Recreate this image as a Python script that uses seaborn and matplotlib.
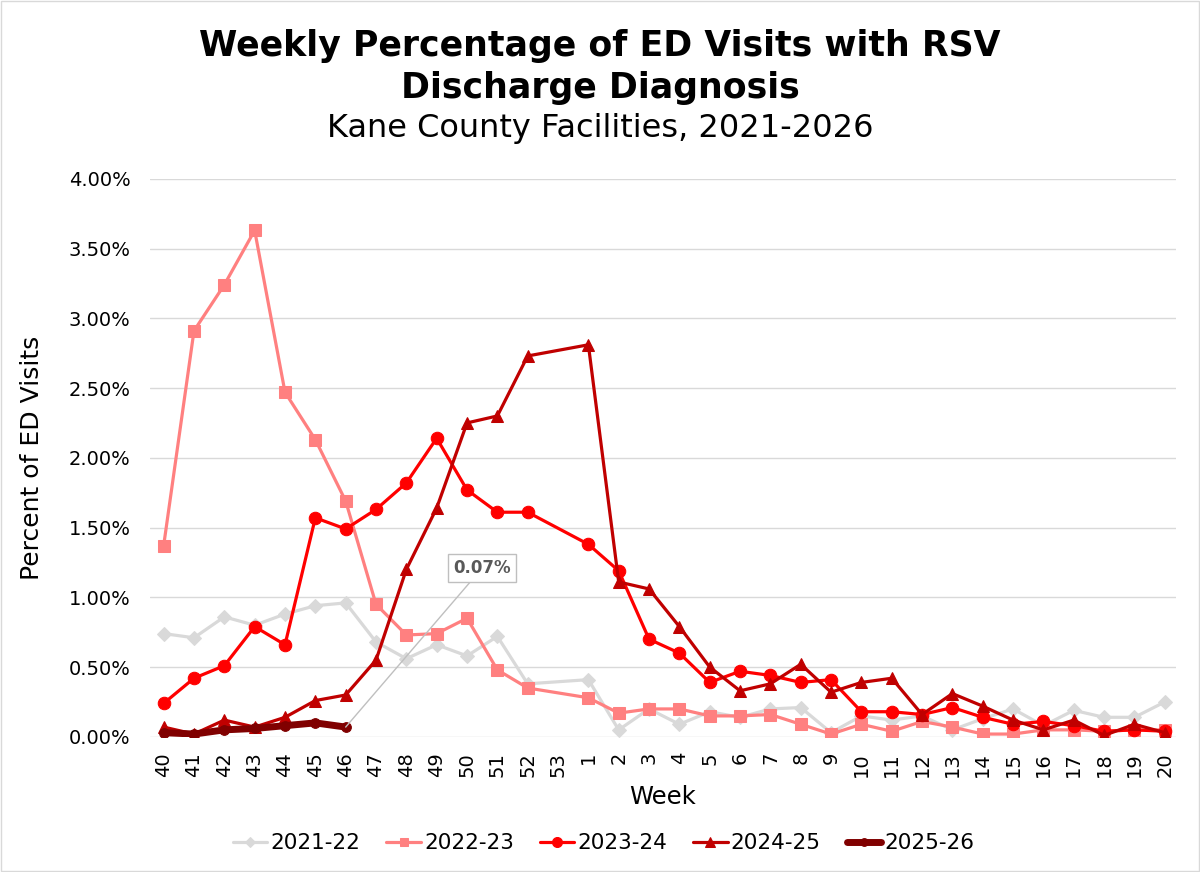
import numpy as np
import pandas as pd
import matplotlib
matplotlib.use("Agg")
import matplotlib.pyplot as plt
import seaborn as sns
from matplotlib.ticker import FuncFormatter

weeks = [str(w) for w in list(range(40, 54)) + list(range(1, 21))]
nan = np.nan

s2021 = [0.74, 0.71, 0.86, 0.80, 0.88, 0.94, 0.96, 0.68, 0.56, 0.66, 0.58, 0.72, 0.38, nan,
         0.41, 0.05, 0.20, 0.09, 0.18, 0.14, 0.20, 0.21, 0.03, 0.15, 0.12, 0.15, 0.05, 0.13,
         0.20, 0.08, 0.19, 0.14, 0.14, 0.25]
s2022 = [1.37, 2.91, 3.24, 3.63, 2.47, 2.13, 1.69, 0.95, 0.73, 0.74, 0.85, 0.48, 0.35, nan,
         0.28, 0.17, 0.20, 0.20, 0.15, 0.15, 0.16, 0.09, 0.02, 0.09, 0.04, 0.11, 0.07, 0.02,
         0.02, 0.05, 0.05, 0.04, 0.05, 0.05]
s2023 = [0.24, 0.42, 0.51, 0.79, 0.66, 1.57, 1.49, 1.63, 1.82, 2.14, 1.77, 1.61, 1.61, nan,
         1.38, 1.19, 0.70, 0.60, 0.39, 0.47, 0.44, 0.39, 0.41, 0.18, 0.18, 0.16, 0.21, 0.14,
         0.09, 0.11, 0.08, 0.04, 0.05, 0.04]
s2024 = [0.07, 0.02, 0.12, 0.07, 0.14, 0.26, 0.30, 0.55, 1.20, 1.64, 2.25, 2.30, 2.73, nan,
         2.81, 1.11, 1.06, 0.79, 0.50, 0.33, 0.38, 0.52, 0.32, 0.39, 0.42, 0.16, 0.31, 0.22,
         0.12, 0.05, 0.12, 0.01, 0.09, 0.03]
s2025 = [0.03, 0.02, 0.05, 0.06, 0.08, 0.10, 0.07] + [nan] * 27

seasons = ["2021-22", "2022-23", "2023-24", "2024-25", "2025-26"]
values = [s2021, s2022, s2023, s2024, s2025]
colors = ["#D9D9D9", "#FF8080", "#FF0000", "#C00000", "#800000"]
markers = ["D", "s", "o", "^", "o"]
widths = [2.3, 2.3, 2.3, 2.3, 5.0]
msizes = [7, 8, 9, 9, 7]

sns.set_theme(style="white")
plt.rcParams["font.family"] = ["DejaVu Sans"]
plt.rcParams["text.color"] = "black"
plt.rcParams["axes.labelcolor"] = "black"
plt.rcParams["xtick.color"] = "black"
plt.rcParams["ytick.color"] = "black"

fig = plt.figure(figsize=(12, 8.72), dpi=100)
ax = fig.add_axes([0.125, 0.155, 0.855, 0.64])

x = np.arange(len(weeks))
for name, vals, c, m, lw, ms in zip(seasons, values, colors, markers, widths, msizes):
    df = pd.DataFrame({"x": x, "y": vals}).dropna()
    sns.lineplot(data=df, x="x", y="y", ax=ax, color=c, marker=m, markersize=ms,
                 markeredgecolor=c, linewidth=lw, label=name)

ax.set_xlim(-0.45, len(weeks) - 0.63)
ax.set_ylim(0, 4.0)
ax.set_yticks(np.arange(0, 4.01, 0.5))
ax.yaxis.set_major_formatter(FuncFormatter(lambda v, p: f"{v:.2f}%"))
ax.set_xticks(x)
ax.set_xticklabels(weeks, rotation=90)
ax.tick_params(axis="y", labelsize=14, length=0, pad=14)
ax.tick_params(axis="x", labelsize=14, length=0, pad=11)
ax.grid(axis="y", color="#D9D9D9", linewidth=1)
for sp in ax.spines.values():
    sp.set_visible(False)
ax.set_axisbelow(True)

ax.set_xlabel("Week", fontsize=17.5, labelpad=6)
ax.set_ylabel("Percent of ED Visits", fontsize=18, labelpad=18)

# data label on latest week of current season
ax.annotate("0.07%", xy=(6, 0.07), xytext=(10.5, 1.21), fontsize=12, fontweight="bold",
            color="#595959", ha="center", va="center",
            bbox=dict(boxstyle="square,pad=0.3", fc="white", ec="#BFBFBF", lw=1),
            arrowprops=dict(arrowstyle="-", color="#BFBFBF", lw=1,
                            shrinkA=0, shrinkB=0))

fig.text(0.5, 0.947, "Weekly Percentage of ED Visits with RSV", ha="center", va="center",
         fontsize=25, fontweight="bold")
fig.text(0.5, 0.899, "Discharge Diagnosis", ha="center", va="center",
         fontsize=25, fontweight="bold")
fig.text(0.5, 0.853, "Kane County Facilities, 2021-2026", ha="center", va="center",
         fontsize=23)

handles, labels = ax.get_legend_handles_labels()
ax.get_legend().remove()
fig.legend(handles, labels, loc="center", bbox_to_anchor=(0.503, 0.033), ncol=5,
           frameon=False, fontsize=15.5, handlelength=1.6, columnspacing=1.2,
           handletextpad=0.15, markerscale=0.8)

fig.patches.append(plt.Rectangle((0.001, 0.001), 0.998, 0.998, transform=fig.transFigure,
                                 fill=False, ec="#D9D9D9", lw=1))
fig.savefig("out.png", dpi=100)
